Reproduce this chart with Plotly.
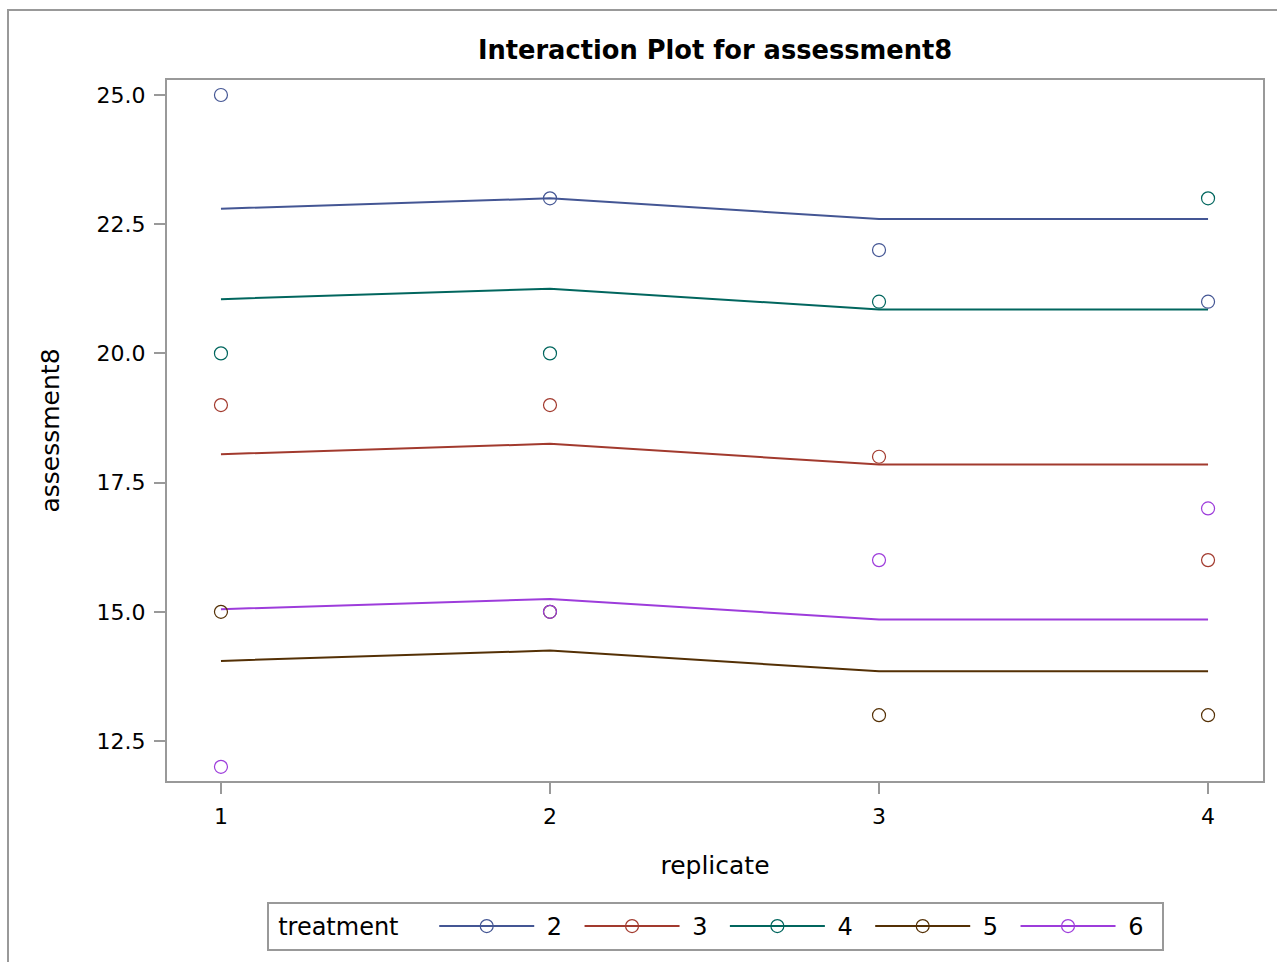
import plotly.graph_objects as go

replicates = [1, 2, 3, 4]
treatments = ["2", "3", "4", "5", "6"]
colors = ["#445694", "#A23A2E", "#01665E", "#543005", "#9D3CDB"]

# observed values per treatment (replicate 1..4)
observed = {
    "2": [25, 23, 22, 21],
    "3": [19, 19, 18, 16],
    "4": [20, 20, 21, 23],
    "5": [15, 15, 13, 13],
    "6": [12, 15, 16, 17],
}
# fitted (interaction plot) line values per treatment
fitted = {
    "2": [22.8, 23.0, 22.6, 22.6],
    "3": [18.05, 18.25, 17.85, 17.85],
    "4": [21.05, 21.25, 20.85, 20.85],
    "5": [14.05, 14.25, 13.85, 13.85],
    "6": [15.05, 15.25, 14.85, 14.85],
}

W, H = 1277, 962
L, R, T, B = 167, 1263, 80, 781
FONT = "DejaVu Sans"

fig = go.Figure()
for t, c in zip(treatments, colors):
    fig.add_trace(go.Scatter(x=replicates, y=fitted[t], mode="lines",
                             line=dict(color=c, width=2), showlegend=False,
                             hoverinfo="skip"))
for t, c in zip(treatments, colors):
    fig.add_trace(go.Scatter(x=replicates, y=observed[t], mode="markers",
                             marker=dict(symbol="circle-open", size=13, color=c,
                                         line=dict(width=1.2, color=c)),
                             showlegend=False))
for t, c in zip(treatments, colors):
    fig.add_trace(go.Scatter(x=[None], y=[None], mode="lines+markers",
                             name=" " + t + " \u2009",
                             line=dict(color=c, width=2),
                             marker=dict(symbol="circle-open", size=13, color=c,
                                         line=dict(width=1.2, color=c))))

def px_x(p):
    return (p - L) / (R - L)

def px_y(p):
    return (B - p) / (B - T)

fig.add_shape(type="rect", xref="paper", yref="paper",
              x0=px_x(8), x1=px_x(1300), y0=px_y(1000), y1=px_y(10),
              line=dict(color="#999999", width=2), fillcolor="rgba(0,0,0,0)",
              layer="below")

axis_common = dict(showline=True, linecolor="#999999", linewidth=2, mirror=True,
                   ticks="outside", ticklen=11, tickwidth=2, tickcolor="#999999",
                   showgrid=False, zeroline=False,
                   tickfont=dict(family=FONT, size=22, color="black"))

fig.update_layout(
    width=W, height=H,
    margin=dict(l=L, r=W - R, t=T, b=H - B, autoexpand=False),
    paper_bgcolor="white", plot_bgcolor="white",
    title=dict(text="<b>Interaction Plot for assessment8</b>", x=(L + R) / 2 / W,
               xanchor="center", y=1 - 50 / H, yanchor="middle",
               font=dict(family=FONT, size=25.7, color="black")),
    xaxis=dict(range=[0.836, 4.167], tickvals=replicates,
               ticktext=[str(r) for r in replicates], ticklabelstandoff=4,
               title=dict(text="replicate", standoff=28,
                          font=dict(family=FONT, size=25, color="black")),
               **axis_common),
    yaxis=dict(range=[11.726, 25.29], tickvals=[12.5, 15.0, 17.5, 20.0, 22.5, 25.0],
               ticktext=["12.5", "15.0", "17.5", "20.0", "22.5", "25.0"],
               ticklabelstandoff=4,
               title=dict(text="assessment8", standoff=30,
                          font=dict(family=FONT, size=25, color="black")),
               **axis_common),
    legend=dict(orientation="h", x=0.5, xanchor="center", y=px_y(902), yanchor="top",
                title=dict(text=" treatment   \u2009", side="left",
                           font=dict(family=FONT, size=24, color="black")),
                font=dict(family=FONT, size=24, color="black"),
                bordercolor="#999999", borderwidth=2, itemwidth=95,
                bgcolor="white", tracegroupgap=0),
)

fig.write_html("out.html")
